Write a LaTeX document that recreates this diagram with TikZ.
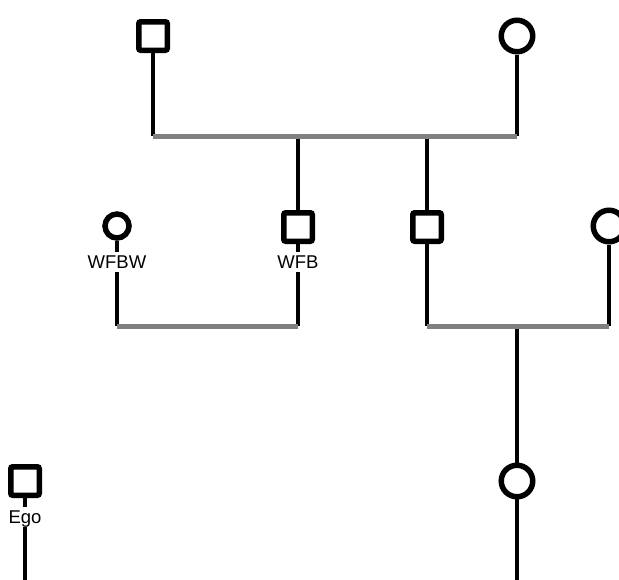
\documentclass[tikz,border=0pt]{standalone}
\usepackage{fontspec}
\setmainfont{Liberation Sans}
\usetikzlibrary{backgrounds}
\definecolor{marrgray}{HTML}{808080}
\begin{document}
\begin{tikzpicture}[x=1pt,y=-1pt,
  kin/.style={line width=4.6pt},
  marr/.style={line width=5pt,draw=marrgray},
  sq/.style={draw,line width=5.5pt,fill=white,rectangle,rounded corners=2pt,minimum size=28.5pt,inner sep=0pt},
  ci/.style={draw,line width=5.5pt,fill=white,circle,minimum size=31.5pt,inner sep=0pt},
  cis/.style={ci,minimum size=24pt},
  lbl/.style={fill=white,inner xsep=1pt,inner ysep=1pt,text height=15pt,text depth=2.5pt,font=\fontsize{18.5}{18.5}\selectfont,anchor=base}]
\useasboundingbox (0,0) rectangle (619,579);
\clip (0,0) rectangle (619,579);
\coordinate (j1) at (0,136);
\coordinate (j2) at (0,326);
\coordinate (bot) at (0,582);
% people
\node[sq] (fa) at (153,36) {};
\node[ci] (mo) at (517,36) {};
\node[cis] (wfbw) at (117,226) {};
\node[lbl] (lwfbw) at (117,268) {WFBW};
\node[sq] (wfb) at (298,227) {};
\node[lbl] (lwfb) at (298,268) {WFB};
\node[sq] (b2) at (427,227) {};
\node[ci] (w2) at (609,226) {};
\node[ci] (d) at (517,481) {};
\node[sq] (ego) at (25,481) {};
\node[lbl] (lego) at (25,523) {Ego};
\begin{pgfonlayer}{background}
\draw[kin] (fa) -- (fa |- j1);
\draw[kin] (mo) -- (mo |- j1);
\draw[kin] (wfb |- j1) -- (wfb |- j2);
\draw[kin] (b2 |- j1) -- (b2 |- j2);
\draw[kin] (wfbw) -- (wfbw |- j2);
\draw[kin] (w2) -- (w2 |- j2);
\draw[kin] (d |- j2) -- (d |- bot);
\draw[kin] (ego) -- (ego |- bot);
\draw[marr] (fa |- j1) -- (mo |- j1);
\draw[marr] (wfbw |- j2) -- (wfb |- j2);
\draw[marr] (b2 |- j2) -- (w2 |- j2);
\end{pgfonlayer}
\end{tikzpicture}
\end{document}
